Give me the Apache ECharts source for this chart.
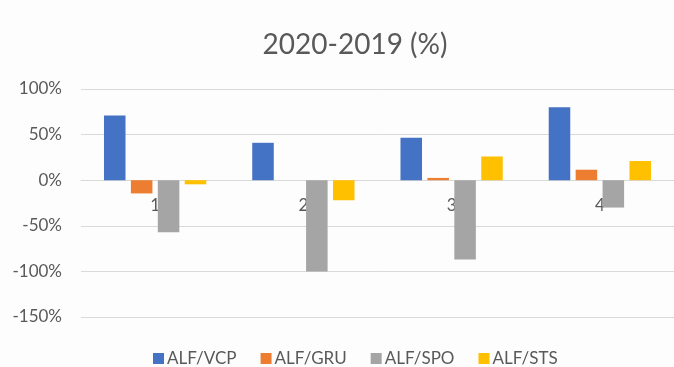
<!DOCTYPE html>
<html>
<head>
<meta charset="utf-8">
<script src="https://cdn.jsdelivr.net/npm/echarts@6/dist/echarts.min.js"></script>
<style>
  html, body { margin: 0; padding: 0; background: #fdfdfd; }
  #chart { width: 674px; height: 367px; }
</style>
</head>
<body>
<div id="chart"></div>
<script>
// Quarter-by-quarter change 2020 vs 2019, per route
const categories = ['1', '2', '3', '4'];
const seriesNames = ['ALF/VCP', 'ALF/GRU', 'ALF/SPO', 'ALF/STS'];
const vcp = [71, 41, 46.5, 80];
const gru = [-14.5, 0, 2.5, 11.5];
const spo = [-57, -100, -87, -30];
const sts = [-4.5, -22, 26, 21];
const yTicks = { min: -150, max: 100, interval: 50 };

const colors = ['#4472C4', '#ED7D31', '#A5A5A5', '#FFC000'];
const font = 'Lato, "Open Sans", sans-serif';
const textColor = '#595959';

const W = 674, H = 367;
const gridBox = { left: 81, right: -7, top: 89, bottom: 50 };
const plotHeight = H - gridBox.top - gridBox.bottom;
// the category axis sits on the zero line, labels just below it
const zeroOffset = -plotHeight * (0 - yTicks.min) / (yTicks.max - yTicks.min);

const chart = echarts.init(document.getElementById('chart'), null, { renderer: 'canvas' });

const values = [vcp, gru, spo, sts];
const series = seriesNames.map((name, i) => ({
  name,
  type: 'bar',
  data: values[i],
  barGap: '25%',
  barCategoryGap: '31%',
  itemStyle: { color: colors[i] },
  emphasis: { disabled: true }
}));

chart.setOption({
  backgroundColor: '#fdfdfd',
  animation: false,
  color: colors,
  title: {
    text: '2020-2019 (%)',
    left: 350,
    top: 26,
    textAlign: 'center',
    textStyle: { fontFamily: font, fontSize: 28, fontWeight: 'normal', color: textColor }
  },
  legend: {
    data: seriesNames,
    left: 153,
    top: 350,
    padding: 0,
    itemWidth: 11,
    itemHeight: 11,
    itemGap: 24,
    icon: 'rect',
    textStyle: { fontFamily: font, fontSize: 17, color: textColor, padding: [0, 0, 0, -2] }
  },
  grid: gridBox,
  xAxis: {
    type: 'category',
    data: categories,
    position: 'bottom',
    offset: zeroOffset,
    axisLine: { onZero: false, lineStyle: { color: '#d9d9d9', width: 1 } },
    axisTick: { show: false },
    axisLabel: { fontFamily: font, fontSize: 17, color: textColor, margin: 17 },
    z: 0
  },
  yAxis: {
    type: 'value',
    min: yTicks.min,
    max: yTicks.max,
    interval: yTicks.interval,
    axisLine: { show: false },
    axisTick: { show: false },
    splitLine: { lineStyle: { color: '#d9d9d9', width: 1 } },
    axisLabel: {
      fontFamily: font, fontSize: 17, color: textColor, margin: 19,
      formatter: v => v + '%'
    }
  },
  series
});
</script>
</body>
</html>
